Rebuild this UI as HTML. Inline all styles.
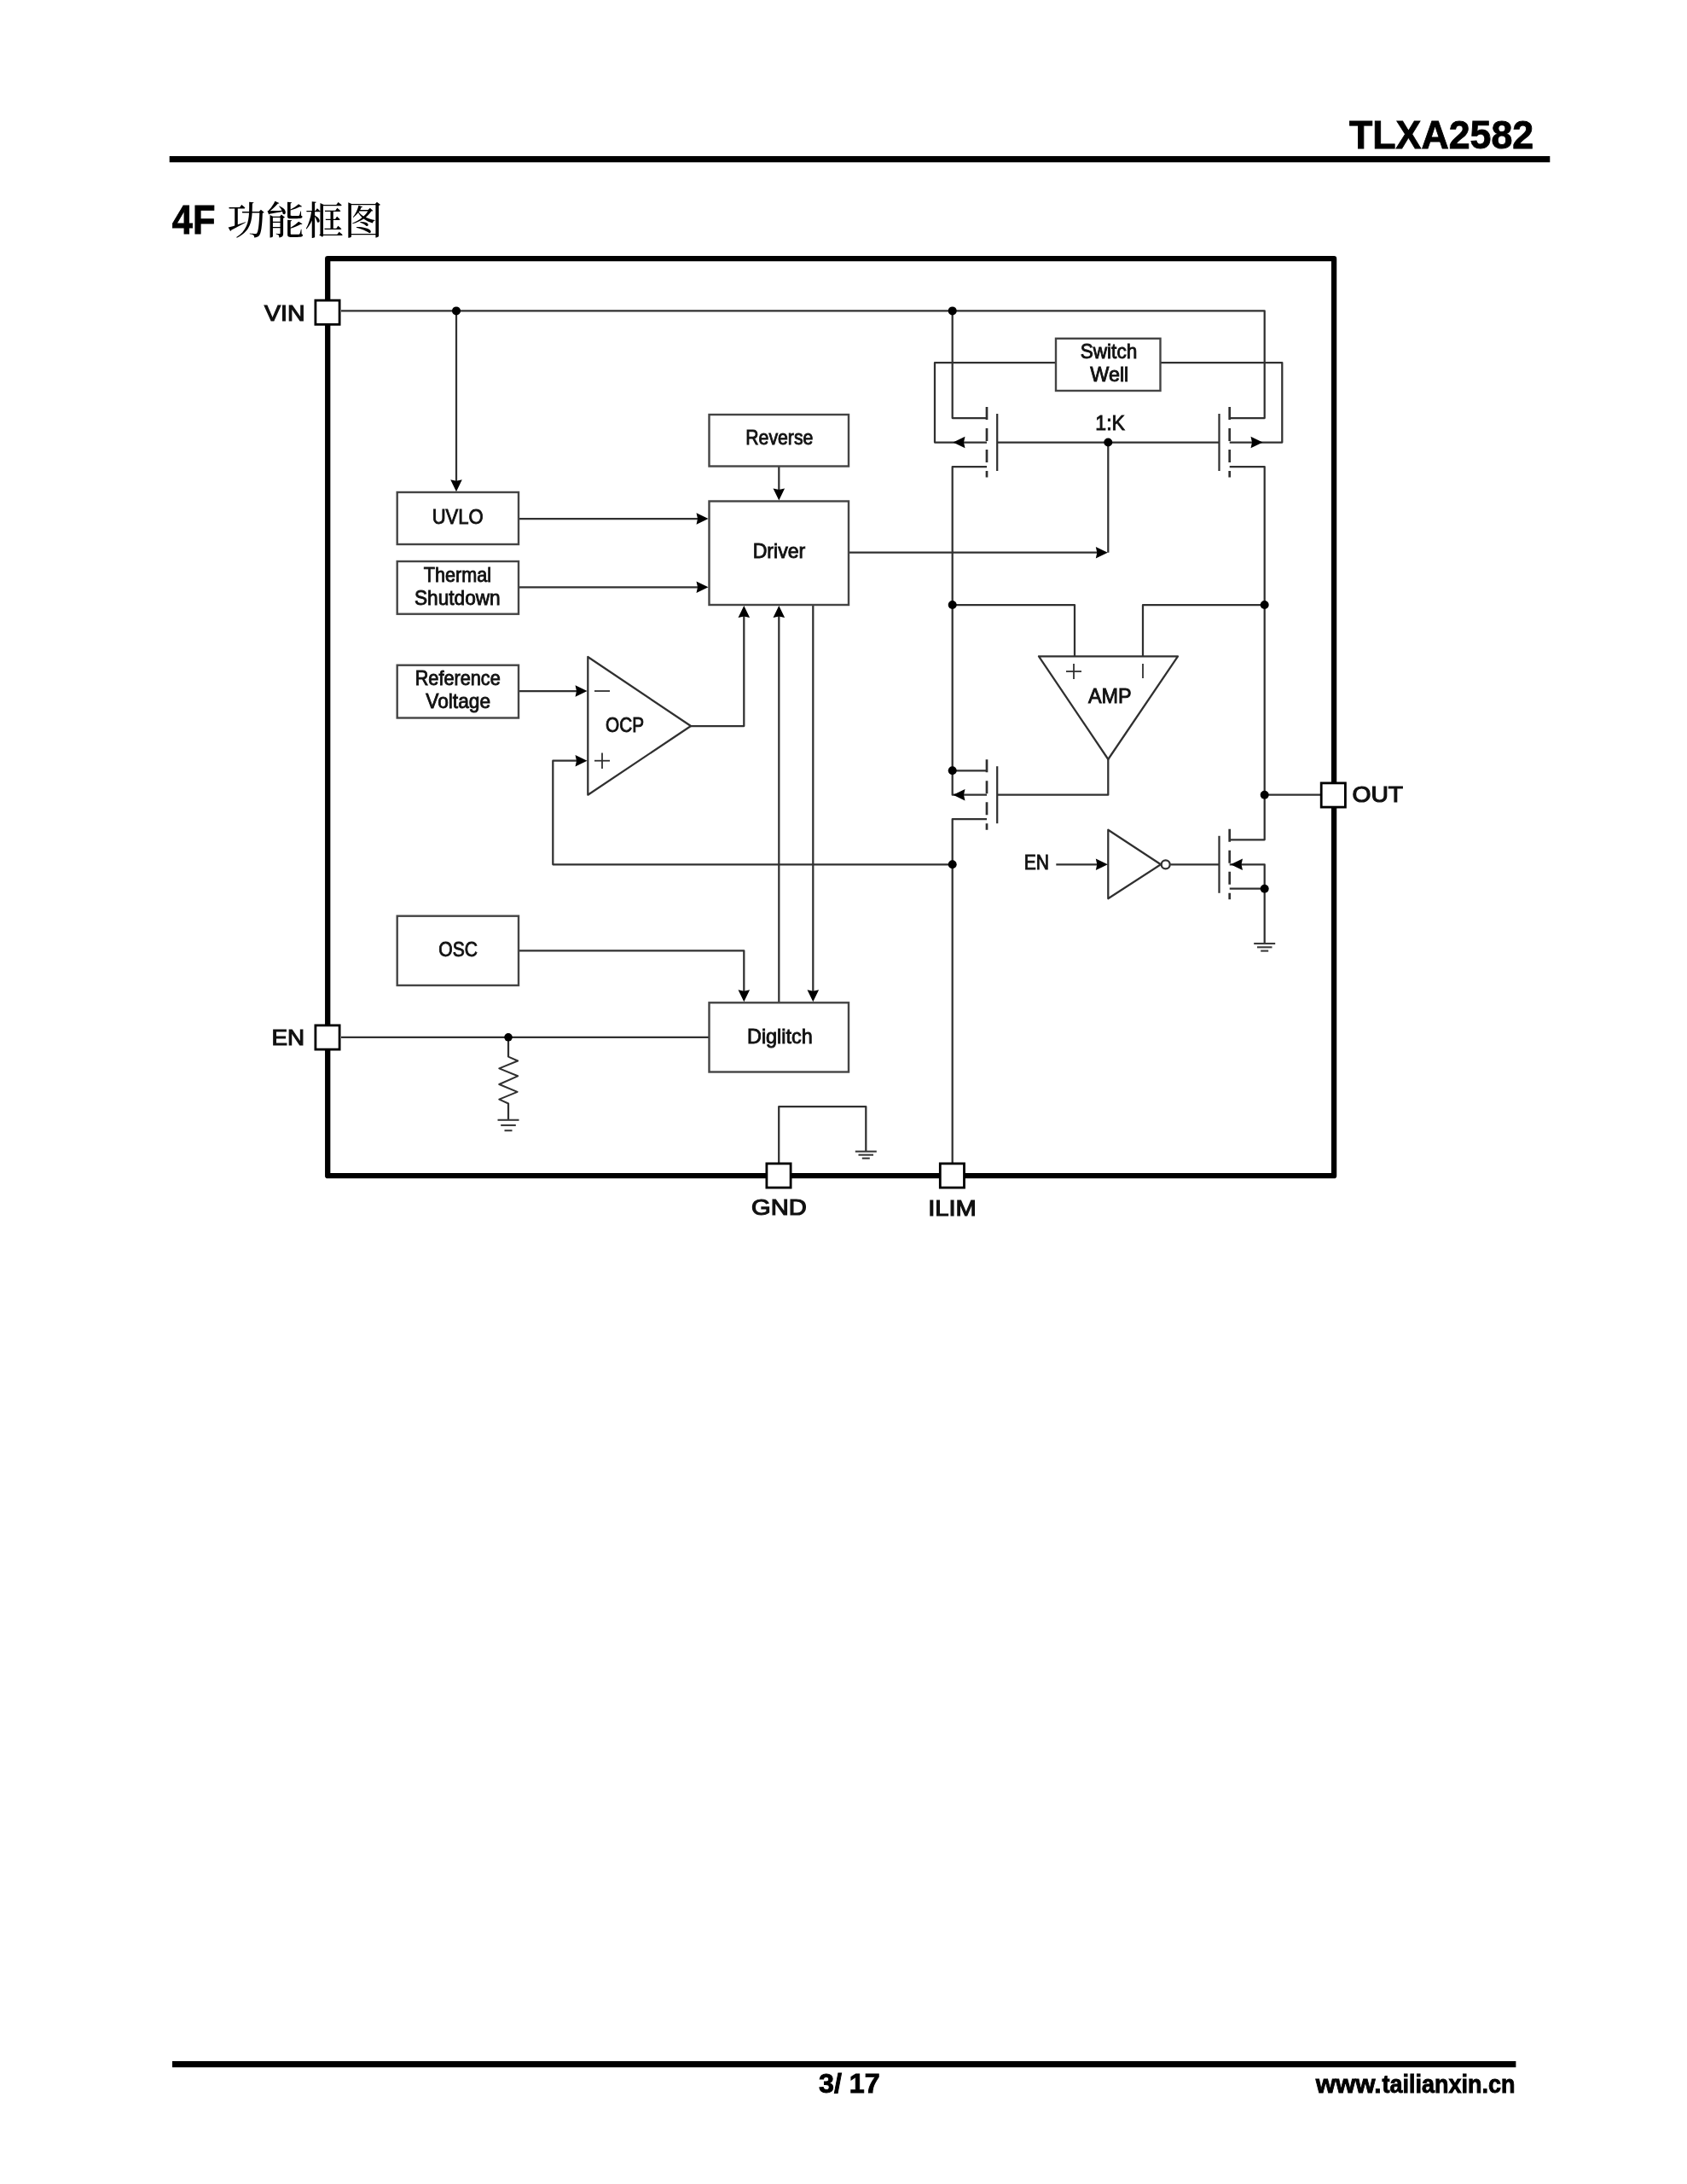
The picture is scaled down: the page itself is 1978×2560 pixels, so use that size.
<!DOCTYPE html>
<html lang="zh">
<head>
<meta charset="utf-8">
<title>TLXA2582 - 4F 功能框图</title>
<style>
html,body{margin:0;padding:0;background:#fff;}
body{width:1978px;height:2560px;overflow:hidden;font-family:"Liberation Sans","Noto Sans CJK SC",sans-serif;}
svg{display:block;will-change:transform;}
text{font-family:"Liberation Sans","Noto Sans CJK SC",sans-serif;fill:#111;}
.t{stroke:#111;stroke-width:0.9px;}
.p{stroke:#111;stroke-width:1.2px;}
.h{font-weight:bold;fill:#000;stroke:#000;stroke-width:0.9px;}
.cj{font-family:"Liberation Serif","Noto Serif CJK SC",serif;font-weight:500;fill:#000;}
.w{fill:none;stroke:#303030;stroke-width:2.25;stroke-linejoin:round;stroke-linecap:butt;}
.w polygon,.w circle{fill:#fff;}
.b rect{fill:#fff;stroke:#444;stroke-width:2.4;}
.pin rect{fill:#fff;stroke:#000;stroke-width:2.8;}
.a polygon,.d circle{fill:#000;}
.g line{stroke:#3a3a3a;stroke-width:2.1;}
</style>
</head>
<body>
<svg width="1978" height="2560" viewBox="0 0 1978 2560">
<rect x="0" y="0" width="1978" height="2560" fill="#fff"/>
<!-- header -->
<text class="h" x="1582" y="174.1" font-size="46.5" textLength="216.2" lengthAdjust="spacingAndGlyphs">TLXA2582</text>
<line x1="198.7" y1="186.6" x2="1817.3" y2="186.6" stroke="#000" stroke-width="7.2"/>
<!-- title -->
<text class="h" x="201.8" y="273.5" font-size="47.5" textLength="50.6" lengthAdjust="spacingAndGlyphs">4F</text>
<text class="cj" x="266" y="274.5" font-size="45.5" letter-spacing="0.3">功能框图</text>
<!-- frame -->
<rect x="384.2" y="303.2" width="1179.9" height="1075" fill="none" stroke="#000" stroke-width="6.3" stroke-linejoin="round"/>
<g class="w">
<polyline points="400.0,364.4 1482.7,364.4 1482.7,490.0 1441.7,490.0"/>
<polyline points="535.0,364.4 535.0,570.0"/>
<polyline points="1116.7,364.4 1116.7,490.0 1157.0,490.0"/>
<polyline points="1238.0,425.0 1096.0,425.0 1096.0,518.5 1157.0,518.5"/>
<polyline points="1157.0,547.0 1116.7,547.0 1116.7,931.7 1157.0,931.7"/>
<polyline points="1116.7,903.3 1157.0,903.3"/>
<polyline points="1169.2,518.5 1429.5,518.5"/>
<polyline points="1299.3,518.5 1299.3,647.7"/>
<polyline points="995.0,647.7 1295.3,647.7"/>
<polyline points="1360.5,425.0 1503.3,425.0 1503.3,518.5 1441.7,518.5"/>
<polyline points="1441.7,547.0 1482.7,547.0 1482.7,984.3 1441.7,984.3"/>
<polyline points="1482.7,931.7 1548.5,931.7"/>
<polyline points="1116.7,709.0 1260.0,709.0 1260.0,769.3"/>
<polyline points="1482.7,709.0 1340.0,709.0 1340.0,769.3"/>
<polygon points="1218,769.3 1381,769.3 1299.3,890"/>
<polyline points="1299.3,890.0 1299.3,931.7 1169.2,931.7"/>
<g stroke-width="1.8">
<polyline points="1250.0,787.0 1268.0,787.0"/>
<polyline points="1259.0,778.0 1259.0,796.0"/>
<polyline points="1340.0,778.0 1340.0,795.0"/>
</g>
<polyline points="1157.0,960.0 1116.7,960.0 1116.7,1363.0"/>
<polyline points="1116.7,1013.3 648.3,1013.3 648.3,891.7 684.0,891.7"/>
<polyline points="609.0,810.0 684.0,810.0"/>
<polygon points="689.3,770 689.3,931.7 810,851"/>
<g stroke-width="1.8">
<polyline points="697.0,810.0 715.0,810.0"/>
<polyline points="697.0,891.7 715.0,891.7"/>
<polyline points="706.0,882.5 706.0,901.0"/>
</g>
<polyline points="810.0,851.0 872.3,851.0 872.3,716.0"/>
<polyline points="609.0,608.0 826.0,608.0"/>
<polyline points="609.0,688.3 826.0,688.3"/>
<polyline points="913.3,546.7 913.3,582.0"/>
<polyline points="913.3,1175.0 913.3,716.0"/>
<polyline points="953.3,709.0 953.3,1170.0"/>
<polyline points="609.0,1114.3 872.3,1114.3 872.3,1170.0"/>
<polyline points="400.0,1215.8 831.0,1215.8"/>
<polyline points="596.0,1215.8 596.0,1238.8"/>
<polyline points="596.0,1293.3 596.0,1312.8"/>
<g stroke-width="2">
<polyline points="596.0,1238.0 596.0,1238.6 607.1,1243.5 585.3,1252.4 607.1,1261.3 585.3,1271.0 606.6,1279.8 585.3,1288.7 596.0,1293.5 596.0,1294.0"/>
</g>
<polyline points="913.2,1363.0 913.2,1297.0 1015.3,1297.0 1015.3,1349.7"/>
<polyline points="1238.3,1013.3 1294.0,1013.3"/>
<polygon points="1299.3,972.7 1299.3,1053.3 1361,1013.3"/>
<circle cx="1366.7" cy="1013.3" r="5"/>
<polyline points="1372.3,1013.3 1429.5,1013.3"/>
<polyline points="1441.7,1013.3 1482.7,1013.3 1482.7,1041.7"/>
<polyline points="1441.7,1041.7 1482.7,1041.7 1482.7,1106.0"/>
<line x1="1157.0" y1="477.0" x2="1157.0" y2="559.5" stroke-dasharray="15 10" stroke-width="2.7"/>
<line x1="1169.2" y1="485.0" x2="1169.2" y2="552.0"/>
<line x1="1157.0" y1="890.2" x2="1157.0" y2="972.7" stroke-dasharray="15 10" stroke-width="2.7"/>
<line x1="1169.2" y1="898.2" x2="1169.2" y2="965.2"/>
<line x1="1441.7" y1="477.0" x2="1441.7" y2="559.5" stroke-dasharray="15 10" stroke-width="2.7"/>
<line x1="1429.5" y1="485.0" x2="1429.5" y2="552.0"/>
<line x1="1441.7" y1="971.8" x2="1441.7" y2="1054.3" stroke-dasharray="15 10" stroke-width="2.7"/>
<line x1="1429.5" y1="979.8" x2="1429.5" y2="1046.8"/>
</g>
<g class="g">
<line x1="583.5" y1="1312.8" x2="608.5" y2="1312.8"/>
<line x1="587.2" y1="1319.0" x2="604.8" y2="1319.0"/>
<line x1="591.5" y1="1325.2" x2="600.5" y2="1325.2"/>
<line x1="1002.8" y1="1349.7" x2="1027.8" y2="1349.7"/>
<line x1="1006.5" y1="1353.7" x2="1024.0" y2="1353.7"/>
<line x1="1010.8" y1="1357.7" x2="1019.8" y2="1357.7"/>
<line x1="1470.2" y1="1106.0" x2="1495.2" y2="1106.0"/>
<line x1="1474.0" y1="1110.3" x2="1491.5" y2="1110.3"/>
<line x1="1478.2" y1="1114.6" x2="1487.2" y2="1114.6"/>
</g>
<g class="b">
<rect x="465.7" y="577.0" width="142.3" height="61.0"/>
<rect x="465.7" y="658.0" width="142.3" height="61.7"/>
<rect x="465.7" y="779.7" width="142.3" height="61.8"/>
<rect x="465.7" y="1073.7" width="142.3" height="81.3"/>
<rect x="831.5" y="486.0" width="163.5" height="60.5"/>
<rect x="831.5" y="587.5" width="163.5" height="121.5"/>
<rect x="831.5" y="1175.3" width="163.5" height="81.2"/>
<rect x="1238.0" y="396.8" width="122.5" height="61.2"/>
</g>
<g class="a">
<polygon points="535.0,576.3 528.2,562.3 535.0,563.8 541.8,562.3"/>
<polygon points="1117.5,518.5 1131.5,511.7 1130.0,518.5 1131.5,525.3"/>
<polygon points="1117.5,931.7 1131.5,924.9 1130.0,931.7 1131.5,938.5"/>
<polygon points="1298.8,647.7 1284.8,640.9 1286.3,647.7 1284.8,654.5"/>
<polygon points="1480.5,518.5 1466.5,511.7 1468.0,518.5 1466.5,525.3"/>
<polygon points="688.5,891.7 674.5,884.9 676.0,891.7 674.5,898.5"/>
<polygon points="688.5,810.0 674.5,803.2 676.0,810.0 674.5,816.8"/>
<polygon points="872.3,710.0 865.5,724.0 872.3,722.5 879.1,724.0"/>
<polygon points="830.5,608.0 816.5,601.2 818.0,608.0 816.5,614.8"/>
<polygon points="830.5,688.3 816.5,681.5 818.0,688.3 816.5,695.1"/>
<polygon points="913.3,586.5 906.5,572.5 913.3,574.0 920.1,572.5"/>
<polygon points="913.3,710.0 906.5,724.0 913.3,722.5 920.1,724.0"/>
<polygon points="953.3,1174.3 946.5,1160.3 953.3,1161.8 960.1,1160.3"/>
<polygon points="872.3,1174.3 865.5,1160.3 872.3,1161.8 879.1,1160.3"/>
<polygon points="1298.8,1013.3 1284.8,1006.5 1286.3,1013.3 1284.8,1020.1"/>
<polygon points="1443.0,1013.3 1457.0,1006.5 1455.5,1013.3 1457.0,1020.1"/>
</g>
<g class="d">
<circle cx="535.0" cy="364.4" r="5"/>
<circle cx="1116.7" cy="364.4" r="5"/>
<circle cx="1116.7" cy="903.3" r="5"/>
<circle cx="1299.3" cy="518.5" r="5"/>
<circle cx="1482.7" cy="709.0" r="5"/>
<circle cx="1482.7" cy="931.7" r="5"/>
<circle cx="1116.7" cy="709.0" r="5"/>
<circle cx="1116.7" cy="1013.3" r="5"/>
<circle cx="596.0" cy="1215.8" r="4.8"/>
<circle cx="1482.7" cy="1041.7" r="5"/>
</g>
<g class="pin">
<rect x="369.9" y="352.1" width="28.2" height="28.2"/>
<rect x="369.9" y="1201.9" width="28.2" height="28.2"/>
<rect x="1549.2" y="917.9" width="28.2" height="28.2"/>
<rect x="898.9" y="1363.9" width="28.2" height="28.2"/>
<rect x="1102.3" y="1363.9" width="28.2" height="28.2"/>
</g>
<g>
<text class="t" x="506.7" y="613.5" font-size="24" textLength="60.0" lengthAdjust="spacingAndGlyphs">UVLO</text>
<text class="t" x="496.7" y="681.7" font-size="24" textLength="79.3" lengthAdjust="spacingAndGlyphs">Thermal</text>
<text class="t" x="486.0" y="709.0" font-size="24" textLength="100.7" lengthAdjust="spacingAndGlyphs">Shutdown</text>
<text class="t" x="486.7" y="802.7" font-size="24" textLength="100.0" lengthAdjust="spacingAndGlyphs">Reference</text>
<text class="t" x="499.3" y="829.9" font-size="24" textLength="75.7" lengthAdjust="spacingAndGlyphs">Voltage</text>
<text class="t" x="710.0" y="858.3" font-size="24" textLength="45.0" lengthAdjust="spacingAndGlyphs">OCP</text>
<text class="t" x="874.3" y="521.0" font-size="24" textLength="79.0" lengthAdjust="spacingAndGlyphs">Reverse</text>
<text class="t" x="882.7" y="654.0" font-size="24" textLength="61.6" lengthAdjust="spacingAndGlyphs">Driver</text>
<text class="t" x="1266.7" y="420.0" font-size="24" textLength="66.6" lengthAdjust="spacingAndGlyphs">Switch</text>
<text class="t" x="1278.3" y="446.7" font-size="24" textLength="45.0" lengthAdjust="spacingAndGlyphs">Well</text>
<text class="t" x="1284.3" y="504.0" font-size="24" textLength="34.7" lengthAdjust="spacingAndGlyphs">1:K</text>
<text class="t" x="1276.0" y="824.0" font-size="24" textLength="50.7" lengthAdjust="spacingAndGlyphs">AMP</text>
<text class="t" x="514.3" y="1121.0" font-size="24" textLength="45.7" lengthAdjust="spacingAndGlyphs">OSC</text>
<text class="t" x="876.0" y="1223.3" font-size="24" textLength="76.7" lengthAdjust="spacingAndGlyphs">Diglitch</text>
<text class="t" x="1200.7" y="1019.3" font-size="24" textLength="29.3" lengthAdjust="spacingAndGlyphs">EN</text>
<text class="p" x="310.0" y="375.8" font-size="26" textLength="47.5" lengthAdjust="spacingAndGlyphs">VIN</text>
<text class="p" x="318.6" y="1224.6" font-size="26" textLength="38.6" lengthAdjust="spacingAndGlyphs">EN</text>
<text class="p" x="1585.5" y="940.0" font-size="26" textLength="59.5" lengthAdjust="spacingAndGlyphs">OUT</text>
<text class="p" x="881.0" y="1423.8" font-size="26" textLength="64.7" lengthAdjust="spacingAndGlyphs">GND</text>
<text class="p" x="1088.2" y="1425.2" font-size="26" textLength="56.6" lengthAdjust="spacingAndGlyphs">ILIM</text>
</g>
<!-- footer -->
<line x1="202" y1="2419.7" x2="1777.4" y2="2419.7" stroke="#000" stroke-width="7.2"/>
<text class="h" x="960" y="2453.4" font-size="30.5" textLength="71.6" lengthAdjust="spacingAndGlyphs">3/ 17</text>
<text class="h" y="2453.1" font-size="30"><tspan x="1542.7" textLength="77" lengthAdjust="spacingAndGlyphs">www.</tspan><tspan x="1620.5" textLength="156" lengthAdjust="spacingAndGlyphs">tailianxin.cn</tspan></text>
</svg>
</body>
</html>
